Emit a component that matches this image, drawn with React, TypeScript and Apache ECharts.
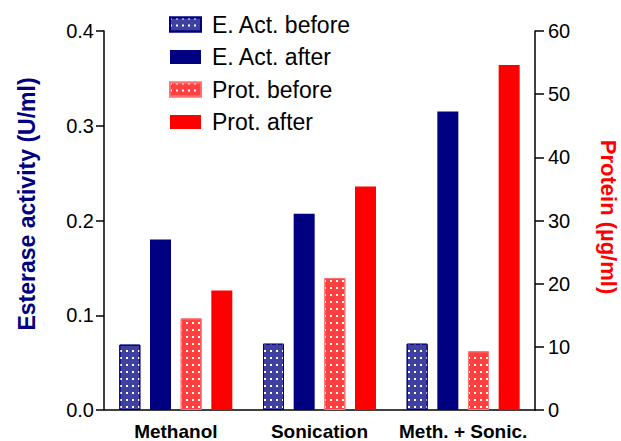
import React, { useEffect, useRef } from "react";
import * as echarts from "echarts";

const categories = ["Methanol", "Sonication", "Meth. + Sonic."];
const esteraseBefore = [0.069, 0.07, 0.07];
const esteraseAfter = [0.18, 0.207, 0.315];
const proteinBefore = [14.5, 20.9, 9.3];
const proteinAfter = [18.9, 35.4, 54.6];
const leftTicks = { min: 0, max: 0.4, interval: 0.1 };
const rightTicks = { min: 0, max: 60, interval: 10 };

const FONT = "Liberation Sans, Arial, sans-serif";

const dotDecal = {
  symbol: "rect",
  symbolSize: 1,
  color: "#ffffff",
  dashArrayX: [2, 4],
  dashArrayY: [2, 4.5],
  rotation: 0,
};

export default function App() {
  const ref = useRef<HTMLDivElement>(null);
  useEffect(() => {
    if (!ref.current) return;
    const chart = echarts.init(ref.current, null, { renderer: "svg" });
    const barW = 21;
    chart.setOption({
      animation: false,
      backgroundColor: "#ffffff",
      grid: { left: 104, right: 86, top: 31, bottom: 29, containLabel: false },
      legend: {
        orient: "vertical",
        left: 164,
        top: 8,
        itemWidth: 31,
        itemHeight: 14,
        itemGap: 9.5,
        icon: "rect",
        textStyle: { fontFamily: FONT, fontSize: 23, color: "#000", padding: [0, 0, 0, 6] },
        data: ["E. Act. before", "E. Act. after", "Prot. before", "Prot. after"],
      },
      xAxis: {
        type: "category",
        data: categories,
        axisLine: { show: true, lineStyle: { color: "#000", width: 1.5 } },
        axisTick: { show: false },
        axisLabel: {
          fontFamily: FONT,
          fontSize: 19,
          fontWeight: "bold",
          color: "#000",
          margin: 12,
          interval: 0,
        },
      },
      yAxis: [
        {
          type: "value",
          ...leftTicks,
          position: "left",
          axisLine: { show: true, lineStyle: { color: "#000", width: 1.5 } },
          axisTick: { show: true, length: 8, lineStyle: { color: "#000", width: 1.5 } },
          axisLabel: {
            fontFamily: FONT,
            fontSize: 20,
            color: "#000",
            margin: 10,
            formatter: (v: number) => v.toFixed(1),
          },
          splitLine: { show: false },
        },
        {
          type: "value",
          ...rightTicks,
          position: "right",
          axisLine: { show: true, lineStyle: { color: "#000", width: 1.5 } },
          axisTick: { show: true, length: 9, lineStyle: { color: "#000", width: 1.5 } },
          axisLabel: { fontFamily: FONT, fontSize: 20, color: "#000", margin: 13 },
          splitLine: { show: false },
        },
      ],
      graphic: [
        {
          type: "text",
          x: 27,
          y: 204,
          rotation: Math.PI / 2,
          style: {
            text: "Esterase activity (U/ml)",
            fontFamily: FONT,
            fontSize: 23,
            fontWeight: "bold",
            fill: "#000080",
            align: "center",
            verticalAlign: "middle",
          },
        },
        {
          type: "text",
          x: 608,
          y: 217,
          rotation: -Math.PI / 2,
          style: {
            text: "Protein (µg/ml)",
            fontFamily: FONT,
            fontSize: 22,
            fontWeight: "bold",
            fill: "#ff0000",
            align: "center",
            verticalAlign: "middle",
          },
        },
      ],
      series: [
        {
          name: "E. Act. before",
          type: "bar",
          yAxisIndex: 0,
          data: esteraseBefore,
          barWidth: barW,
          barGap: "46%",
          itemStyle: { color: "#40409f", borderColor: "#000080", borderWidth: 1, decal: dotDecal },
        },
        {
          name: "E. Act. after",
          type: "bar",
          yAxisIndex: 0,
          data: esteraseAfter,
          barWidth: barW,
          barGap: "46%",
          itemStyle: { color: "#000080" },
        },
        {
          name: "Prot. before",
          type: "bar",
          yAxisIndex: 1,
          data: proteinBefore,
          barWidth: barW,
          barGap: "46%",
          itemStyle: { color: "#ff4040", borderColor: "#ff7070", borderWidth: 1, decal: dotDecal },
        },
        {
          name: "Prot. after",
          type: "bar",
          yAxisIndex: 1,
          data: proteinAfter,
          barWidth: barW,
          barGap: "46%",
          itemStyle: { color: "#ff0000" },
        },
      ],
    });
    return () => chart.dispose();
  }, []);
  return <div ref={ref} style={{ width: 621, height: 441, position: "absolute", left: 0, top: 0 }} />;
}
